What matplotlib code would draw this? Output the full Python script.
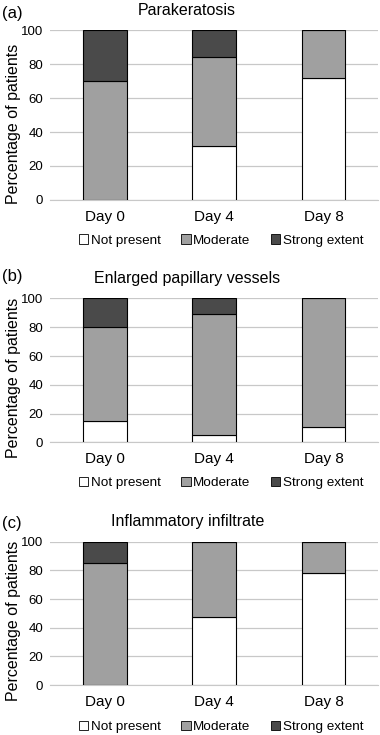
"""Stacked bar panels: percentage of patients per severity over days."""
import matplotlib.pyplot as plt
from matplotlib.patches import Patch

days = ["Day 0", "Day 4", "Day 8"]
levels = ["Not present", "Moderate", "Strong extent"]

# (a) Parakeratosis
para_none = [0, 32, 72]
para_mod = [70, 52, 28]
para_strong = [30, 16, 0]

# (b) Enlarged papillary vessels
vess_none = [15, 5.5, 11]
vess_mod = [65, 83.5, 89]
vess_strong = [20, 11, 0]

# (c) Inflammatory infiltrate
infl_none = [0, 47.5, 78]
infl_mod = [85, 52.5, 22]
infl_strong = [15, 0, 0]

titles = ["Parakeratosis", "Enlarged papillary vessels", "Inflammatory infiltrate"]
tags = ["(a)", "(b)", "(c)"]
panels = [
    (para_none, para_mod, para_strong),
    (vess_none, vess_mod, vess_strong),
    (infl_none, infl_mod, infl_strong),
]

COLORS = ["#ffffff", "#a0a0a0", "#4a4a4a"]
# axes boxes in figure fraction: left, bottom, width, height
BOXES = [
    (0.132, 0.728, 0.863, 0.231),
    (0.132, 0.398, 0.863, 0.196),
    (0.132, 0.068, 0.863, 0.195),
]
LEGEND_Y = [0.673, 0.343, 0.011]
TAG_Y = [0.982, 0.624, 0.288]

plt.rcParams["font.family"] = ["Liberation Sans", "DejaVu Sans"]

fig = plt.figure(figsize=(3.8, 7.35), dpi=100)

for k, (series, box) in enumerate(zip(panels, BOXES)):
    ax = fig.add_axes(box)
    x = range(len(days))
    bottom = [0] * len(days)
    for vals, col in zip(series, COLORS):
        ax.bar(x, vals, width=0.4, bottom=bottom, color=col,
               edgecolor="black", linewidth=0.8, zorder=3)
        bottom = [b + v for b, v in zip(bottom, vals)]
    ax.set_xlim(-0.5, 2.5)
    ax.set_ylim(0, 100)
    ax.set_yticks([0, 20, 40, 60, 80, 100])
    ax.set_xticks(list(x))
    ax.set_xticklabels(days, fontsize=11)
    ax.tick_params(axis="y", labelsize=9.5, length=0, pad=5)
    ax.tick_params(axis="x", length=0, pad=7)
    ax.grid(axis="y", color="#c8c8c8", linewidth=0.9, zorder=0)
    ax.set_axisbelow(True)
    for side in ["top", "right", "left"]:
        ax.spines[side].set_visible(False)
    ax.spines["bottom"].set_color("#c8c8c8")
    ax.set_ylabel("Percentage of patients", fontsize=11.5)
    ax.yaxis.set_label_coords(-0.09, 0.45)
    ax.set_title(titles[k], fontsize=11.5, pad=11, x=0.418)
    fig.text(0.005, TAG_Y[k], tags[k], fontsize=12, va="center")

    handles = [Patch(facecolor=c, edgecolor="black", linewidth=0.6) for c in COLORS]
    fig.legend(handles, levels, loc="center", bbox_to_anchor=(0.582, LEGEND_Y[k]),
               ncol=3, frameon=False, fontsize=9.7, handlelength=0.7,
               handleheight=0.7, handletextpad=0.2, columnspacing=1.5)

fig.savefig("out.png", dpi=100)
